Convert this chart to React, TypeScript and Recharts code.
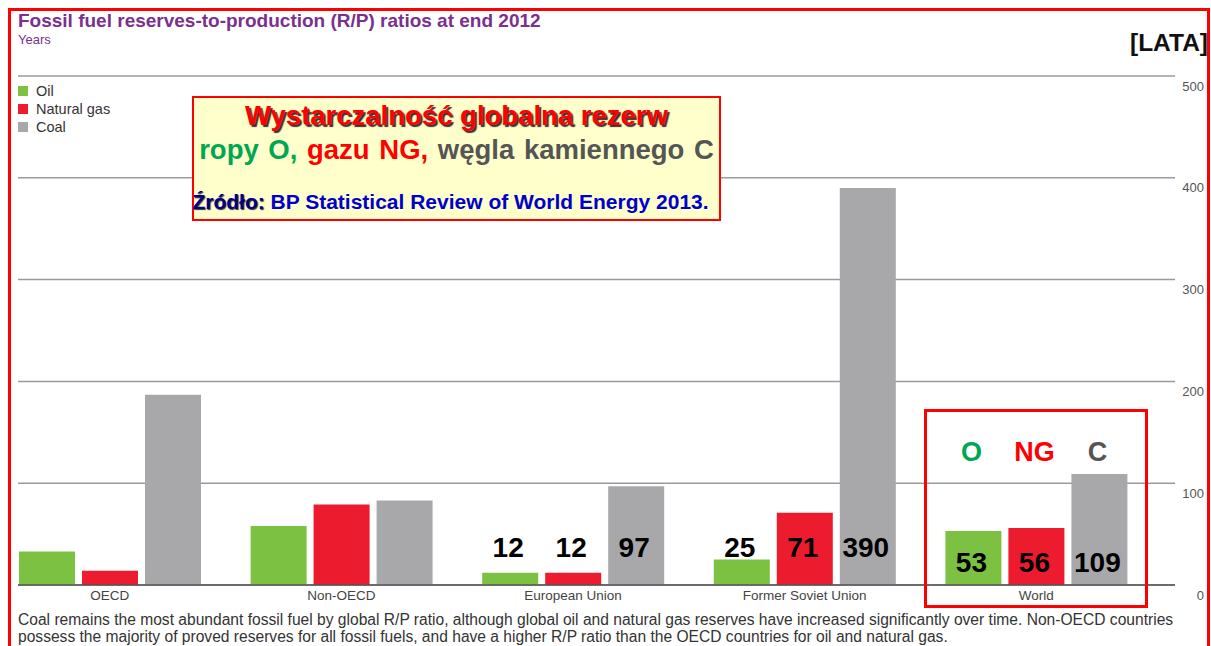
import React from 'react';
import { BarChart, Bar, XAxis, YAxis, CartesianGrid, LabelList } from 'recharts';

const categories = ['OECD', 'Non-OECD', 'European Union', 'Former Soviet Union', 'World'];
const oilValues = [33, 58, 12, 25, 53];
const gasValues = [14, 79, 12, 71, 56];
const coalValues = [187, 83, 97, 390, 109];
const yTicks = [0, 100, 200, 300, 400, 500];
const seriesNames = ['Oil', 'Natural gas', 'Coal'];
const labelledCategories = ['European Union', 'Former Soviet Union', 'World'];
const highlightedCategory = 'World';
const highlightLetters = ['O', 'NG', 'C'];

const title = 'Fossil fuel reserves-to-production (R/P) ratios at end 2012';
const subtitle = 'Years';
const unitLabel = '[LATA]';
const boxLine1 = 'Wystarczalność globalna rezerw';
const footnote1 =
  'Coal remains the most abundant fossil fuel by global R/P ratio, although global oil and natural gas reserves have increased significantly over time. Non-OECD countries';
const footnote2 = 'possess the majority of proved reserves for all fossil fuels, and have a higher R/P ratio than the OECD countries for oil and natural gas.';

const COLORS = ['#7cc142', '#ec1c2e', '#a8a8ab'];
const LETTER_COLORS = ['#00a651', '#ff0000', '#555555'];
const FONT = '"Liberation Sans", Arial, Helvetica, sans-serif';

const data = categories.map((c, i) => ({
  category: c,
  oil: oilValues[i],
  gas: gasValues[i],
  coal: coalValues[i],
}));

const makeLabel = (seriesIndex: number) => (props: any) => {
  const { x, y, width, height, value, index } = props;
  const cat = categories[index];
  if (!labelledCategories.includes(cat)) return null;
  const bottom = Number(y) + Number(height);
  const cx = Number(x) + Number(width) / 2 - 2;
  const isHighlight = cat === highlightedCategory;
  const labelY = isHighlight ? bottom - 23 : bottom - 38;
  return (
    <g>
      <text
        x={cx}
        y={labelY}
        textAnchor="middle"
        dominantBaseline="central"
        fontFamily={FONT}
        fontWeight="bold"
        fontSize={28}
        fill="#000"
      >
        {value}
      </text>
      {isHighlight && (
        <text
          x={cx}
          y={bottom - 133}
          textAnchor="middle"
          dominantBaseline="central"
          fontFamily={FONT}
          fontWeight="bold"
          fontSize={27}
          fill={LETTER_COLORS[seriesIndex]}
        >
          {highlightLetters[seriesIndex]}
        </text>
      )}
    </g>
  );
};

const YTick = (props: any) => {
  const { y, payload } = props;
  return (
    <text x={1204} y={Number(y) + 10} textAnchor="end" dominantBaseline="central" fontFamily={FONT} fontSize={13} fill="#555">
      {payload.value}
    </text>
  );
};

const XTick = (props: any) => {
  const { x, y, payload } = props;
  return (
    <text x={x} y={Number(y) + 2} textAnchor="middle" dominantBaseline="central" fontFamily={FONT} fontSize={13.5} fill="#444">
      {payload.value}
    </text>
  );
};

export default function App() {
  return (
    <div
      style={{
        position: 'absolute',
        left: 0,
        top: 0,
        width: 1211,
        height: 646,
        overflow: 'hidden',
        background: '#fff',
        fontFamily: FONT,
      }}
    >
      <div style={{ position: 'absolute', left: 0, top: 0 }}>
        <BarChart
          width={1211}
          height={646}
          data={data}
          margin={{ top: 76, right: 6, bottom: 31, left: 18 }}
          barGap={7}
          barCategoryGap={25}
        >
          <CartesianGrid horizontal vertical={false} stroke="#9a9a9a" strokeWidth={1.5} />
          <XAxis
            dataKey="category"
            axisLine={{ stroke: '#555', strokeWidth: 1.5 }}
            tickLine={false}
            tick={<XTick />}
            height={30}
            padding={{ left: -24, right: 23 }}
            interval={0}
          />
          <YAxis
            orientation="right"
            domain={[0, 500]}
            ticks={yTicks}
            axisLine={false}
            tickLine={false}
            tick={<YTick />}
            width={30}
          />
          <Bar dataKey="oil" name={seriesNames[0]} fill={COLORS[0]} isAnimationActive={false}>
            <LabelList dataKey="oil" content={makeLabel(0)} />
          </Bar>
          <Bar dataKey="gas" name={seriesNames[1]} fill={COLORS[1]} isAnimationActive={false}>
            <LabelList dataKey="gas" content={makeLabel(1)} />
          </Bar>
          <Bar dataKey="coal" name={seriesNames[2]} fill={COLORS[2]} isAnimationActive={false}>
            <LabelList dataKey="coal" content={makeLabel(2)} />
          </Bar>
        </BarChart>
      </div>

      {/* Title */}
      <div style={{ position: 'absolute', left: 18, top: 10, fontSize: 19, fontWeight: 'bold', color: '#7b2f8f', whiteSpace: 'nowrap', lineHeight: '22px' }}>
        {title}
      </div>
      <div style={{ position: 'absolute', left: 18, top: 32, fontSize: 13, color: '#7b2f8f', lineHeight: '16px' }}>{subtitle}</div>
      <div style={{ position: 'absolute', right: 3, top: 28, fontSize: 24.5, fontWeight: 'bold', color: '#111', lineHeight: '30px' }}>{unitLabel}</div>

      {/* Legend */}
      <div style={{ position: 'absolute', left: 18, top: 82, fontSize: 14.5, color: '#333', lineHeight: '18px' }}>
        {seriesNames.map((n, i) => (
          <div key={n} style={{ display: 'flex', alignItems: 'center' }}>
            <span style={{ display: 'inline-block', width: 10, height: 10, background: COLORS[i], marginRight: 8 }} />
            {n}
          </div>
        ))}
      </div>

      {/* Annotation box */}
      <div
        style={{
          position: 'absolute',
          left: 192,
          top: 96,
          width: 525,
          height: 121,
          background: '#ffffcc',
          border: '2px solid #ff0000',
          textAlign: 'center',
          fontWeight: 'bold',
          whiteSpace: 'nowrap',
        }}
      >
        <div style={{ fontSize: 27.5, color: '#ff0000', marginTop: 1, textShadow: '2px 2px 1px #333', lineHeight: '34px' }}>
          {boxLine1}
        </div>
        <div style={{ fontSize: 27.5, lineHeight: '34px', marginTop: 0, wordSpacing: 2 }}>
          <span style={{ color: '#00a651' }}>ropy O, </span>
          <span style={{ color: '#ff0000' }}>gazu NG, </span>
          <span style={{ color: '#555555' }}>węgla kamiennego C</span>
        </div>
        <div style={{ fontSize: 21, lineHeight: '26px', marginTop: 22, marginLeft: -12 }}>
          <span style={{ color: '#00008b', textShadow: '1px 1px 1px #333' }}>Źródło:</span>
          <span style={{ color: '#0000cc' }}> BP Statistical Review of World Energy 2013.</span>
        </div>
      </div>

      {/* Highlight box around World */}
      <div
        style={{
          position: 'absolute',
          left: 924,
          top: 409,
          width: 218,
          height: 193,
          border: '3px solid #ff0000',
        }}
      />

      {/* Footnote */}
      <div style={{ position: 'absolute', left: 18, top: 611, fontSize: 15.6, color: '#333', lineHeight: '17px', whiteSpace: 'nowrap' }}>
        <div>{footnote1}</div>
        <div>{footnote2}</div>
      </div>

      {/* Outer frame */}
      <div
        style={{
          position: 'absolute',
          left: 8,
          top: 8,
          width: 1196,
          height: 650,
          border: '3px solid #ff0000',
        }}
      />
    </div>
  );
}
